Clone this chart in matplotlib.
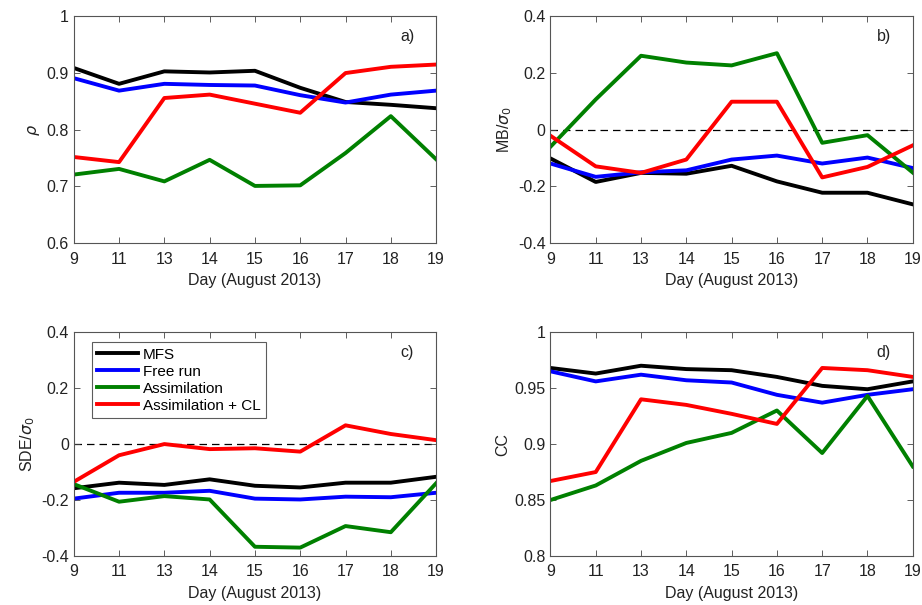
import matplotlib
matplotlib.use("Agg")
import matplotlib.pyplot as plt

plt.rcParams['font.family'] = ['Liberation Sans', 'DejaVu Sans']
plt.rcParams['mathtext.fontset'] = 'dejavusans'

days = ['9', '11', '13', '14', '15', '16', '17', '18', '19']
series_names = ['MFS', 'Free run', 'Assimilation', 'Assimilation + CL']
series_colors = ['black', 'blue', (0.0, 0.5, 0.0), 'red']

# a) correlation rho
rho_mfs = [0.909, 0.881, 0.903, 0.901, 0.904, 0.874, 0.849, 0.844, 0.838]
rho_free = [0.891, 0.869, 0.881, 0.879, 0.878, 0.861, 0.848, 0.862, 0.869]
rho_assim = [0.721, 0.731, 0.709, 0.747, 0.701, 0.702, 0.759, 0.824, 0.748]
rho_assim_cl = [0.752, 0.743, 0.856, 0.862, 0.846, 0.830, 0.900, 0.911, 0.915]

# b) mean bias normalised
mb_mfs = [-0.101, -0.184, -0.152, -0.155, -0.127, -0.182, -0.222, -0.222, -0.263]
mb_free = [-0.119, -0.166, -0.150, -0.143, -0.105, -0.091, -0.119, -0.098, -0.135]
mb_assim = [-0.060, 0.107, 0.261, 0.237, 0.227, 0.270, -0.046, -0.019, -0.151]
mb_assim_cl = [-0.021, -0.129, -0.152, -0.105, 0.099, 0.099, -0.168, -0.131, -0.055]

# c) standard deviation error normalised
sde_mfs = [-0.158, -0.138, -0.146, -0.126, -0.149, -0.155, -0.138, -0.138, -0.117]
sde_free = [-0.195, -0.174, -0.174, -0.167, -0.195, -0.198, -0.188, -0.190, -0.174]
sde_assim = [-0.143, -0.206, -0.186, -0.198, -0.367, -0.370, -0.293, -0.315, -0.140]
sde_assim_cl = [-0.135, -0.040, 0.000, -0.018, -0.015, -0.027, 0.067, 0.036, 0.014]

# d) CC
cc_mfs = [0.968, 0.963, 0.970, 0.967, 0.966, 0.960, 0.952, 0.949, 0.956]
cc_free = [0.965, 0.956, 0.962, 0.957, 0.955, 0.944, 0.937, 0.944, 0.949]
cc_assim = [0.850, 0.863, 0.885, 0.901, 0.910, 0.930, 0.892, 0.943, 0.880]
cc_assim_cl = [0.867, 0.875, 0.940, 0.935, 0.927, 0.918, 0.968, 0.966, 0.960]

panels = [
    ([rho_mfs, rho_free, rho_assim, rho_assim_cl], r'$\rho$', (0.6, 1.0),
     [0.6, 0.7, 0.8, 0.9, 1.0], ['0.6', '0.7', '0.8', '0.9', '1'], 'a)', False),
    ([mb_mfs, mb_free, mb_assim, mb_assim_cl], r'MB/$\sigma_0$', (-0.4, 0.4),
     [-0.4, -0.2, 0, 0.2, 0.4], ['-0.4', '-0.2', '0', '0.2', '0.4'], 'b)', True),
    ([sde_mfs, sde_free, sde_assim, sde_assim_cl], r'SDE/$\sigma_0$', (-0.4, 0.4),
     [-0.4, -0.2, 0, 0.2, 0.4], ['-0.4', '-0.2', '0', '0.2', '0.4'], 'c)', True),
    ([cc_mfs, cc_free, cc_assim, cc_assim_cl], 'CC', (0.8, 1.0),
     [0.8, 0.85, 0.9, 0.95, 1.0], ['0.8', '0.85', '0.9', '0.95', '1'], 'd)', False),
]

rects = [
    [0.080, 0.598, 0.393, 0.375],
    [0.597, 0.598, 0.393, 0.375],
    [0.080, 0.081, 0.393, 0.370],
    [0.597, 0.081, 0.393, 0.370],
]

fs = 11.5
fig = plt.figure(figsize=(9.22, 6.05), dpi=100)
x = list(range(len(days)))

for rect, (data, ylabel, ylim, yticks, yticklabels, tag, zero_line) in zip(rects, panels):
    ax = fig.add_axes(rect)
    if zero_line:
        ax.axhline(0, color='black', linestyle=(0, (6, 4)), linewidth=0.9, zorder=1)
    for vals, name, col in zip(data, series_names, series_colors):
        ax.plot(x, vals, color=col, linewidth=2.8, label=name, zorder=2)
    ax.set_xlim(0, len(days) - 1)
    ax.set_ylim(*ylim)
    ax.set_xticks(x)
    ax.set_xticklabels(days)
    ax.set_yticks(yticks)
    ax.set_yticklabels(yticklabels)
    ax.tick_params(direction='in', top=True, right=True, labelsize=fs,
                   length=4, width=0.6, color='#444444', labelcolor='#222222')
    ax.tick_params(axis='x', pad=6)
    for sp in ax.spines.values():
        sp.set_linewidth(0.8)
        sp.set_color('#555555')
    ax.set_xlabel('Day (August 2013)', fontsize=fs, color='#222222', labelpad=5)
    ax.set_ylabel(ylabel, fontsize=fs, color='#222222', labelpad=3)
    ax.text(0.92, 0.91, tag, transform=ax.transAxes, fontsize=fs,
            ha='center', va='center', color='#222222')
    if tag == 'c)':
        leg = ax.legend(loc='upper left', bbox_to_anchor=(0.05, 0.955), fontsize=fs - 0.5,
                        frameon=True, fancybox=False, handlelength=2.7,
                        handletextpad=0.3, labelspacing=0.2, borderpad=0.35,
                        borderaxespad=0)
        leg.get_frame().set_edgecolor('#333333')
        leg.get_frame().set_linewidth(0.8)

fig.savefig('out.png', dpi=100)
